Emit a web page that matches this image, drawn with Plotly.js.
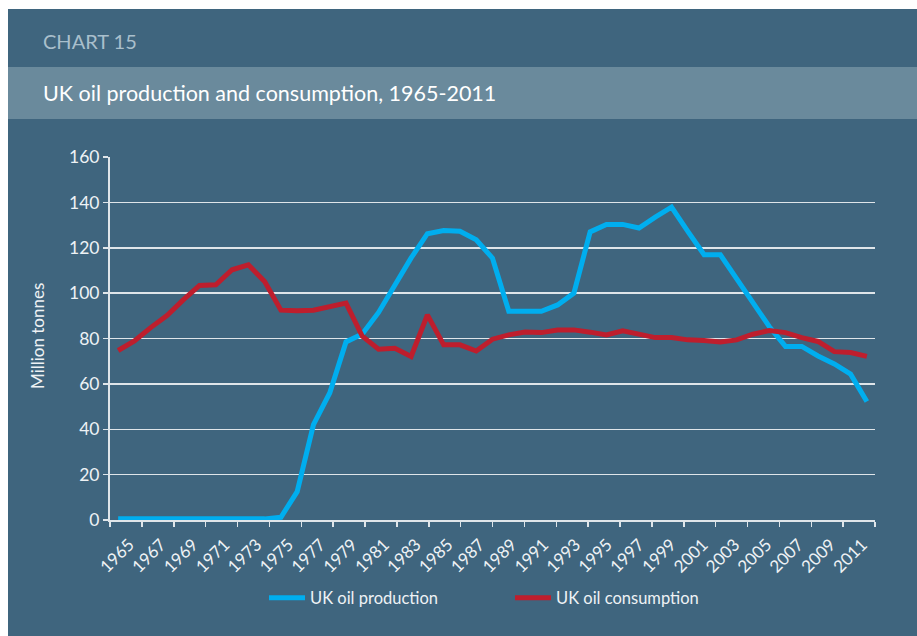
<!DOCTYPE html>
<html>
<head>
<meta charset="utf-8">
<script src="https://cdn.plot.ly/plotly-3.0.1.min.js"></script>
<style>
  html, body { margin: 0; padding: 0; background: #ffffff; }
  #chart { width: 917px; height: 636px; }
</style>
</head>
<body>
<div id="chart"></div>
<script>
// ---- Data (million tonnes) ----
const years = [1965,1966,1967,1968,1969,1970,1971,1972,1973,1974,
               1975,1976,1977,1978,1979,1980,1981,1982,1983,1984,
               1985,1986,1987,1988,1989,1990,1991,1992,1993,1994,
               1995,1996,1997,1998,1999,2000,2001,2002,2003,2004,
               2005,2006,2007,2008,2009,2010,2011];

const production = [0.5,0.5,0.5,0.5,0.5,0.5,0.5,0.5,0.5,0.5,
                    1.2,12.5,42,56,78.5,82,91.5,103.5,115.5,126.2,
                    127.6,127.3,123.5,115.4,92,92,92,94.8,100,127,
                    130.3,130.3,128.7,133.5,137.9,127.2,116.9,116.9,106.6,95.6,
                    85.3,76.5,76.5,72.3,68.8,64.3,52.2];

const consumption = [74.7,78.9,84.8,90.1,97,103.4,103.7,110.3,112.5,105.1,
                     92.5,92.2,92.5,94.1,95.6,81,75.3,75.7,72.1,90.4,
                     77.2,77.2,74.5,79.7,81.6,82.9,82.6,83.7,83.8,82.8,
                     81.6,83.4,81.9,80.4,80.4,79.4,79.1,78.5,79.4,81.9,
                     83.5,82.6,80.4,78.7,74.2,73.8,72.1];

const tickLabels = ['1965','1967','1969','1971','1973','1975','1977','1979','1981','1983',
                    '1985','1987','1989','1991','1993','1995','1997','1999','2001','2003',
                    '2005','2007','2009','2011'];

const seriesNames = ['UK oil production', 'UK oil consumption'];
const chartLabel = 'CHART 15';
const chartTitle = 'UK oil production and consumption, 1965-2011';
const yTitle = 'Million tonnes';

// ---- Layout geometry ----
const W = 917, H = 636;
const M = {l: 110, r: 42, t: 157, b: 116};
const plotW = W - M.l - M.r, plotH = H - M.t - M.b;
const px2x = p => (p - M.l) / plotW;
const py2y = p => (H - M.b - p) / plotH;

const xMin = 1964.5, xMax = 2011.5;
const tickStep = (xMax - xMin) / tickLabels.length;
const labelShift = 0.2;
const labelPos = tickLabels.map((_, k) => xMin + (k + 0.5) * tickStep + labelShift);

const FONT = 'Lato, "Open Sans", sans-serif';
const BG = '#3f657e';
const BAND = '#6a8a9c';
const GRID = '#dfe5e9';
const TXT = '#eef2f5';

const traces = [
  {x: years, y: production, name: seriesNames[0], type: 'scatter', mode: 'lines',
   line: {color: '#00aeef', width: 5}},
  {x: years, y: consumption, name: seriesNames[1], type: 'scatter', mode: 'lines',
   line: {color: '#be1e2d', width: 5}}
];

const layout = {
  width: W, height: H,
  margin: M,
  paper_bgcolor: '#ffffff',
  plot_bgcolor: 'rgba(0,0,0,0)',
  font: {family: FONT, color: TXT},
  showlegend: true,
  legend: {
    orientation: 'h',
    x: px2x(264), xanchor: 'left',
    y: py2y(598), yanchor: 'middle',
    font: {family: FONT, size: 16.5, color: TXT},
    bgcolor: 'rgba(0,0,0,0)',
    itemwidth: 36,
    entrywidth: 195, entrywidthmode: 'pixels'
  },
  xaxis: {
    range: [xMin, xMax],
    showgrid: false, zeroline: false,
    showline: true, linecolor: GRID, linewidth: 2,
    tickmode: 'array', tickvals: labelPos, ticktext: tickLabels,
    ticks: '', tickangle: -45, ticklabelstandoff: 6,
    tickfont: {family: FONT, size: 17, color: TXT},
    minor: {tickmode: 'linear', tick0: xMin, dtick: tickStep,
            ticks: 'outside', ticklen: 5, tickwidth: 1.5, tickcolor: GRID, showgrid: false},
    fixedrange: true
  },
  yaxis: {
    range: [0, 160], dtick: 20, tick0: 0,
    showgrid: true, gridcolor: GRID, gridwidth: 1.5,
    zeroline: false,
    showline: true, linecolor: GRID, linewidth: 2,
    ticks: 'outside', ticklen: 5, tickwidth: 1.5, tickcolor: GRID,
    tickfont: {family: FONT, size: 17.5, color: TXT},
    fixedrange: true
  },
  shapes: [
    {type: 'rect', xref: 'paper', yref: 'paper', layer: 'below',
     x0: px2x(8), x1: px2x(917), y0: py2y(636), y1: py2y(9),
     fillcolor: BG, line: {width: 0}},
    {type: 'rect', xref: 'paper', yref: 'paper', layer: 'below',
     x0: px2x(8), x1: px2x(917), y0: py2y(119), y1: py2y(67),
     fillcolor: BAND, line: {width: 0}}
  ],
  annotations: [
    {text: chartLabel, xref: 'paper', yref: 'paper', x: px2x(41), y: py2y(41),
     xanchor: 'left', yanchor: 'middle', showarrow: false,
     font: {family: FONT, size: 20, color: '#a9bfcc'}},
    {text: chartTitle, xref: 'paper', yref: 'paper', x: px2x(41), y: py2y(93),
     xanchor: 'left', yanchor: 'middle', showarrow: false,
     font: {family: FONT, size: 21.5, color: '#ffffff'}},
    {text: yTitle, xref: 'paper', yref: 'paper', x: px2x(37), y: py2y(336),
     xanchor: 'center', yanchor: 'middle', textangle: -90, showarrow: false,
     font: {family: FONT, size: 17, color: TXT}}
  ]
};

Plotly.newPlot('chart', traces, layout, {displayModeBar: false, staticPlot: true});
</script>
</body>
</html>
